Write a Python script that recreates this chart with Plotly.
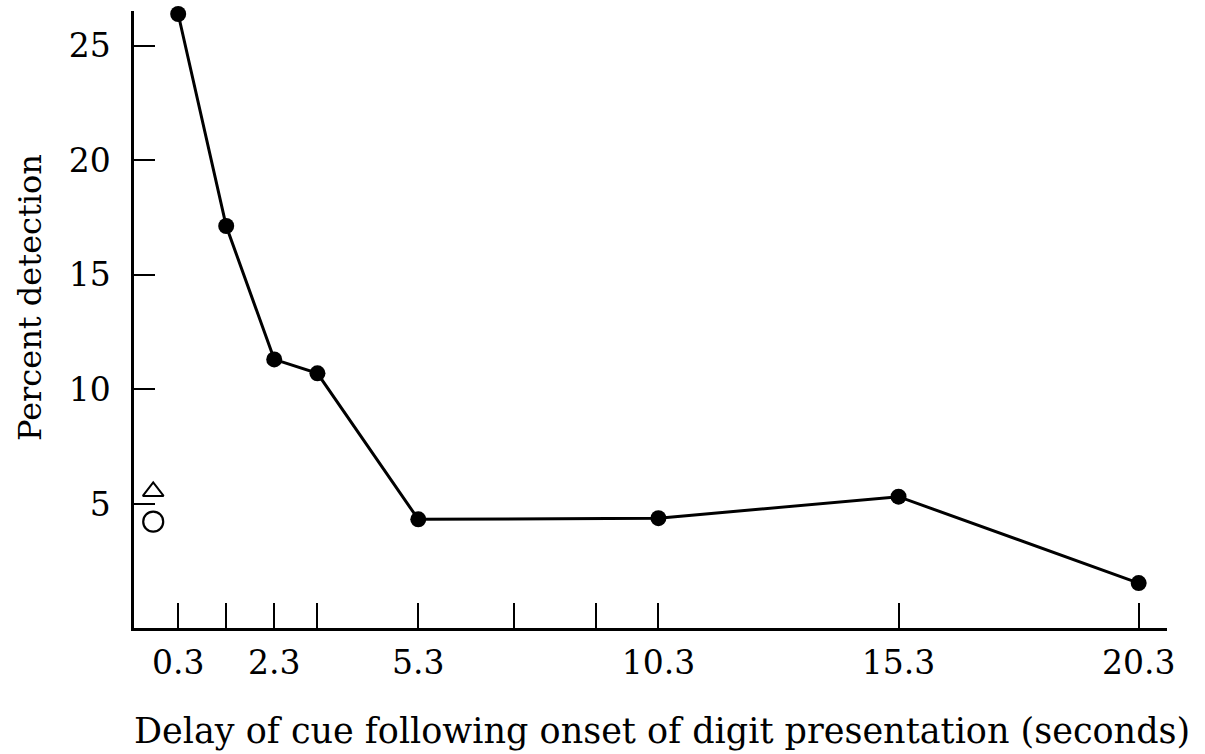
import plotly.graph_objects as go

# Data
delay = [0.3, 1.3, 2.3, 3.2, 5.3, 10.3, 15.3, 20.3]
detection = [26.38, 17.13, 11.31, 10.70, 4.33, 4.38, 5.32, 1.55]

baseline_x = [-0.22]
baseline_triangle = [5.55]
baseline_circle = [4.23]

x_tickvals = [0.3, 1.3, 2.3, 3.2, 5.3, 7.3, 9.0, 10.3, 15.3, 20.3]
x_ticktext = ["0.3", "", "2.3", "", "5.3", "", "", "10.3", "15.3", "20.3"]
y_tickvals = [5, 10, 15, 20, 25]
y_ticktext = ["5", "10", "15", "20", "25"]

FONT = "DejaVu Serif"

fig = go.Figure()
fig.add_trace(go.Scatter(
    x=delay, y=detection, mode="lines+markers",
    line=dict(color="black", width=3),
    marker=dict(color="black", size=16, symbol="circle"),
    cliponaxis=False, showlegend=False,
))
fig.add_trace(go.Scatter(
    x=baseline_x, y=baseline_triangle, mode="markers",
    marker=dict(symbol="triangle-up-open", size=18, color="black", line=dict(width=2)),
    cliponaxis=False, showlegend=False,
))
fig.add_trace(go.Scatter(
    x=baseline_x, y=baseline_circle, mode="markers",
    marker=dict(symbol="circle-open", size=20, color="black", line=dict(width=2.2)),
    cliponaxis=False, showlegend=False,
))

fig.update_layout(
    width=1205, height=754, autosize=False,
    margin=dict(l=134, r=38, t=11, b=126),
    paper_bgcolor="white", plot_bgcolor="white",
    font=dict(family=FONT, color="black", size=33),
    xaxis=dict(
        range=[-0.62, 20.89], showgrid=False, zeroline=False,
        showline=True, linecolor="black", linewidth=2.5,
        ticks="inside", ticklen=25, tickwidth=2, tickcolor="black",
        tickvals=x_tickvals, ticktext=x_ticktext,
        tickfont=dict(family=FONT, size=33, color="black"),
        ticklabelstandoff=4,
    ),
    yaxis=dict(
        range=[-0.41, 26.51], showgrid=False, zeroline=False,
        showline=True, linecolor="black", linewidth=2.5,
        ticks="inside", ticklen=21, tickwidth=2, tickcolor="black",
        tickvals=y_tickvals, ticktext=y_ticktext,
        tickfont=dict(family=FONT, size=33, color="black"),
        ticklabelstandoff=14,
    ),
    annotations=[
        dict(text="Percent detection", xref="paper", yref="paper",
             x=-0.1007, y=0.5365, xanchor="center", yanchor="middle",
             textangle=-90, showarrow=False,
             font=dict(family=FONT, size=32, color="black")),
        dict(text="Delay of cue following onset of digit presentation (seconds)",
             xref="paper", yref="paper", x=0.5116, y=-0.167,
             xanchor="center", yanchor="middle", showarrow=False,
             font=dict(family=FONT, size=35, color="black")),
    ],
)

fig.write_html("out.html")
